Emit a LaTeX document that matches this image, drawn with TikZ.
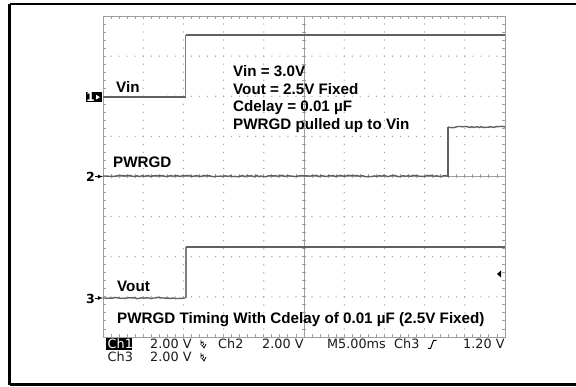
\documentclass[tikz,border=0pt]{standalone}
\usepackage{fontspec}
\setmainfont{Liberation Sans}
\newfontfamily\scopefont{DejaVu Sans}
\usetikzlibrary{decorations.pathmorphing}
\definecolor{gridgray}{gray}{0.62}
\definecolor{tracegray}{gray}{0.38}
\begin{document}
\begin{tikzpicture}[x=1pt,y=-1pt,
  gridline/.style={draw=gridgray, line width=0.9pt},
  trace/.style={draw=tracegray, line width=1.4pt},
  noisy/.style={decorate, decoration={random steps, segment length=2.4pt, amplitude=0.7pt}},
  lbl/.style={font=\fontsize{15.2}{18}\selectfont\bfseries, inner sep=0pt, anchor=base west},
  stat/.style={font=\scopefont\fontsize{12.8}{14}\selectfont, inner sep=0pt, anchor=base west, text=black!90},
  chnum/.style={font=\scopefont\fontsize{12.5}{13}\selectfont\bfseries, inner sep=0pt}]
\pgfmathsetseed{11}
\useasboundingbox (0,0) rectangle (576,387);
% outer frame (right side lies beyond the picture)
\draw[line width=2.5pt] (9.5,3.8) -- (580,3.8);
\draw[line width=2.5pt] (9.5,3.8) -- (9.5,384.6);
\draw[line width=2.5pt] (9.5,384.6) -- (580,384.6);
% graticule frame and ticks
\draw[gridline] (103,16) rectangle (505,337);
\foreach \i in {1,...,49} {
  \draw[gridline] ({103+8.04*\i},16) -- ++(0,3);
  \draw[gridline] ({103+8.04*\i},337) -- ++(0,-3);
  \draw[gridline] ({103+8.04*\i},174.5) -- ++(0,4);
}
\foreach \j in {1,...,39} {
  \draw[gridline] (103,{16+8.025*\j}) -- ++(3,0);
  \draw[gridline] (505,{16+8.025*\j}) -- ++(-3,0);
  \draw[gridline] (302,{16+8.025*\j}) -- ++(4,0);
}
\draw[gridline] (103,176.5) -- (505,176.5);
\draw[gridline] (304,16) -- (304,337);
% dotted grid
\foreach \k in {1,2,3,4,6,7,8,9} {
  \foreach \j in {1,...,39} {
    \fill[gridgray] ({103+40.2*\k},{16+8.025*\j}) circle (0.7);
  }
}
\foreach \m in {1,2,3,5,6,7} {
  \foreach \i in {1,...,49} {
    \fill[gridgray] ({103+8.04*\i},{16+40.125*\m}) circle (0.7);
  }
}
% traces
\draw[trace] (103,97) -- (185.5,97);
\draw[trace, draw=gridgray!80!black] (185.5,97) -- (185.5,35);
\draw[trace] (185.5,35) -- (505,35);
\draw[trace, noisy] (103,176) -- (447,176);
\draw[trace] (447,176) -- (448,176) -- (448,127);
\draw[trace, noisy] (448,127) -- (505,127);
\draw[trace, noisy] (103,298) -- (185,298);
\draw[trace, draw=gridgray!80!black] (186,298) -- (186,247);
\draw[trace] (186,247) -- (505,247);
% channel markers
\fill[black] (86,92.5) rectangle (101.5,102);
\node[chnum, text=white] (m1) at (90.5,97.3) {1};
\fill[white] (96,94.8) -- (100,97.2) -- (96,99.6) -- cycle;
\node[chnum] (m2) at (90.5,176.8) {2};
\draw[line width=0.8pt, -latex] (95,176.5) -- (103,176.5);
\node[chnum] (m3) at (90.5,298.5) {3};
\draw[line width=0.8pt, -latex] (95,298) -- (103,298);
% trigger level marker
\fill[black] (497,274) -- (501,270.5) -- (501,277.5) -- cycle;
% trace labels
\node[lbl] (vin) at (116,93) {Vin};
\node[lbl] (pwrgd) at (113,168) {PWRGD};
\node[lbl] (vout) at (117,292) {Vout};
% conditions
\node[lbl] (c1) at (233,77) {Vin = 3.0V};
\node[lbl] (c2) at (233,94.5) {Vout = 2.5V Fixed};
\node[lbl] (c3) at (233,112) {Cdelay = 0.01 µF};
\node[lbl] (c4) at (233,129.5) {PWRGD pulled up to Vin};
\node[lbl] (cap) at (117,324) {PWRGD Timing With Cdelay of 0.01 µF (2.5V Fixed)};
% status line
\fill[black] (106,337.8) rectangle (132,350.2);
\node[stat, text=white] (s1) at (107.5,349) {Ch1};
\node[stat] (s2) at (150,349) {2.00 V};
\draw[line width=0.7pt] (201,340) -- (201,345.5) (201,343) -- (203,342) -- (203.5,345) (202,345) -- (204,348) -- (206,344);
\node[stat] (s3) at (218,349) {Ch2};
\node[stat] (s4) at (262,349) {2.00 V};
\node[stat] (s5) at (327,349) {M5.00ms};
\node[stat] (s6) at (394,349) {Ch3};
\draw[line width=1pt] (428,348.5) -- (430.5,348.5) -- (433.5,340.5) -- (436.5,340.5);
\node[stat] (s7) at (463,349) {1.20 V};
\node[stat] (s8) at (107.5,362) {Ch3};
\node[stat] (s9) at (150,362) {2.00 V};
\draw[line width=0.7pt] (201,353) -- (201,358.5) (201,356) -- (203,355) -- (203.5,358) (202,358) -- (204,361) -- (206,357);
\end{tikzpicture}
\end{document}
